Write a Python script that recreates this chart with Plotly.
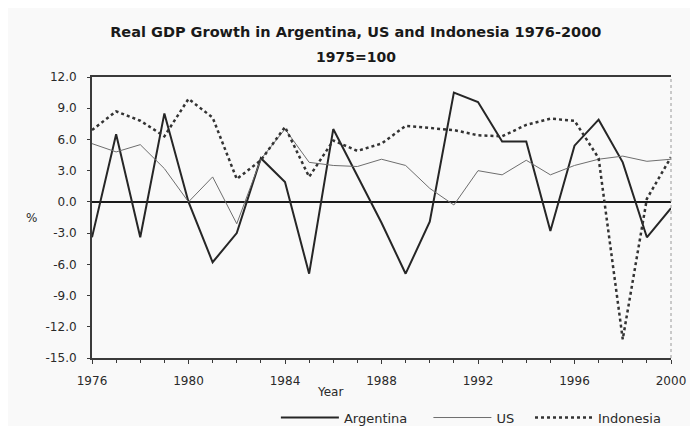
"""Real GDP growth chart: Argentina, US and Indonesia, 1976-2000."""

import plotly.graph_objects as go

# Data (annual % growth)
years = list(range(1976, 2001))
argentina = [
    -3.4, 6.5, -3.4, 8.5, 0.0, -5.8, -3.0, 4.2, 1.9, -6.9, 7.0, 2.5, -2.0,
    -6.9, -1.9, 10.5, 9.6, 5.8, 5.8, -2.8, 5.4, 7.9, 3.8, -3.4, -0.6,
]
us = [
    5.6, 4.8, 5.5, 3.2, 0.0, 2.4, -2.1, 4.1, 7.0, 3.8, 3.5, 3.4, 4.1,
    3.5, 1.3, -0.3, 3.0, 2.6, 4.0, 2.6, 3.5, 4.1, 4.4, 3.9, 4.1,
]
indonesia = [
    6.9, 8.7, 7.8, 6.3, 9.9, 8.1, 2.2, 4.0, 7.2, 2.4, 5.9, 4.9, 5.6,
    7.3, 7.1, 6.9, 6.4, 6.3, 7.4, 8.0, 7.8, 4.2, -13.2, 0.3, 4.3,
]
x_ticks = list(range(1976, 2001, 4))
y_ticks = [12.0, 9.0, 6.0, 3.0, 0.0, -3.0, -6.0, -9.0, -12.0, -15.0]

# Colour scheme mimicking the scanned print
COLORS = {
    "argentina": "#262626",
    "us": "#6e6e6e",
    "indonesia": "#333333",
    "axis": "#3a3a3a",
    "text": "#2a2a2a",
    "background": "#f9f9f9",
}
FONT = "DejaVu Sans, Arial, sans-serif"

# The page body has an 8px margin, so the figure is offset by 8px;
# it is made a bit taller than the window so the legend can sit at the very bottom
fig = go.Figure()

fig.add_trace(
    go.Scatter(
        x=years, y=argentina, name="Argentina", mode="lines", legend="legend",
        line=dict(color=COLORS["argentina"], width=2),
    )
)
fig.add_trace(
    go.Scatter(
        x=years, y=us, name="US", mode="lines", legend="legend2",
        line=dict(color=COLORS["us"], width=1),
    )
)
fig.add_trace(
    go.Scatter(
        x=years, y=indonesia, name="Indonesia", mode="lines", legend="legend3",
        line=dict(color=COLORS["indonesia"], width=2.5, dash="dot"),
    )
)

# Dotted right-hand border of the plot frame
fig.add_shape(
    type="line", xref="paper", yref="paper", x0=1, x1=1, y0=0, y1=1,
    line=dict(color="#9a9a9a", width=1, dash="dot"),
)


def legend_at(x):
    """One single-entry legend below the plot, starting at paper x."""
    return dict(
        orientation="h",
        x=x,
        xanchor="left",
        y=-0.212,
        yanchor="middle",
        bgcolor="rgba(0,0,0,0)",
        font=dict(family=FONT, size=13, color=COLORS["text"]),
        itemwidth=58,
    )


fig.update_layout(
    width=690,
    height=436,
    margin=dict(l=84, r=25, t=69, b=84),
    paper_bgcolor=COLORS["background"],
    plot_bgcolor=COLORS["background"],
    font=dict(family=FONT, size=12, color=COLORS["text"]),
    title=dict(
        text="<b>Real GDP Growth in Argentina, US and Indonesia 1976-2000</b>",
        x=0.504,
        xanchor="center",
        y=1 - 24 / 436,
        yanchor="middle",
        font=dict(family=FONT, size=14.5, color="#1a1a1a"),
    ),
    showlegend=True,
    legend=legend_at(0.3176),
    legend2=legend_at(0.581),
    legend3=legend_at(0.7565),
    xaxis=dict(
        range=[1976, 2000],
        tickvals=x_ticks,
        ticktext=[str(v) for v in x_ticks],
        ticks="outside",
        ticklen=4,
        tickcolor=COLORS["axis"],
        ticklabelstandoff=7,
        minor=dict(dtick=1, ticks="outside", ticklen=3, tickcolor=COLORS["axis"]),
        showgrid=False,
        zeroline=False,
        showline=True,
        linecolor=COLORS["axis"],
        linewidth=2,
        mirror=True,
        tickfont=dict(size=12),
    ),
    yaxis=dict(
        range=[-15, 12],
        tickvals=y_ticks,
        ticktext=[f"{v:.1f}" for v in y_ticks],
        ticks="outside",
        ticklen=3,
        tickcolor=COLORS["axis"],
        ticklabelstandoff=8,
        showgrid=False,
        zeroline=True,
        zerolinecolor="#1a1a1a",
        zerolinewidth=2,
        showline=True,
        linecolor=COLORS["axis"],
        linewidth=2,
        tickfont=dict(size=12),
    ),
    annotations=[
        dict(
            text="<b>1975=100</b>", xref="paper", yref="paper", x=0.456, y=1.0707,
            showarrow=False, xanchor="center", yanchor="middle",
            font=dict(family=FONT, size=14, color="#1a1a1a"),
        ),
        dict(
            text="%", xref="paper", yref="paper", x=-0.105, y=0.498,
            showarrow=False, xanchor="center", yanchor="middle",
            font=dict(size=12, color=COLORS["text"]),
        ),
        dict(
            text="Year", xref="paper", yref="paper", x=0.411, y=-0.12,
            showarrow=False, xanchor="center", yanchor="middle",
            font=dict(size=12, color=COLORS["text"]),
        ),
    ],
)

fig.write_html("out.html")
